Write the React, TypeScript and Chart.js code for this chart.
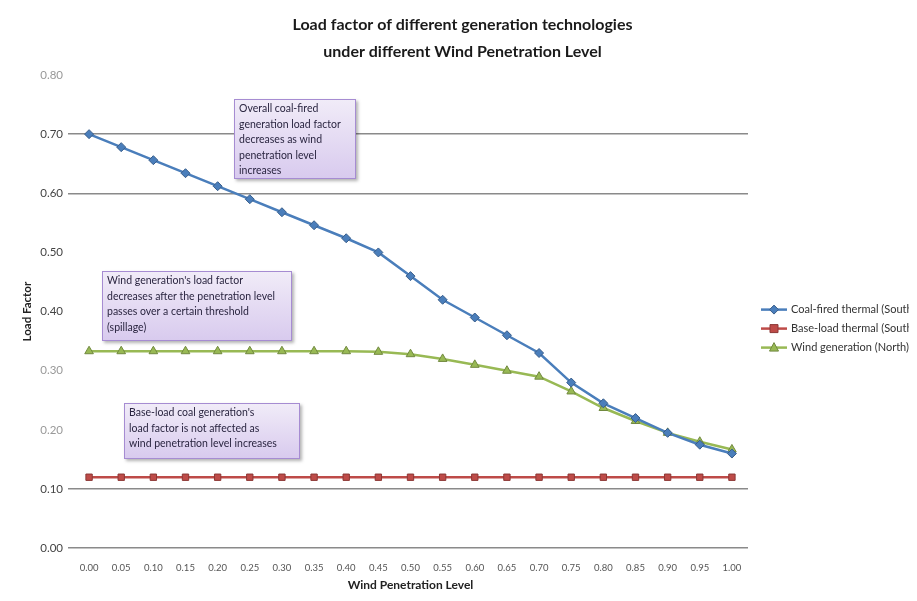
import React, { useEffect, useRef } from "react";
import { Chart, registerables } from "chart.js";

Chart.register(...registerables);

// ---------- data ----------
const categories = [
  "0.00", "0.05", "0.10", "0.15", "0.20", "0.25", "0.30", "0.35", "0.40", "0.45", "0.50",
  "0.55", "0.60", "0.65", "0.70", "0.75", "0.80", "0.85", "0.90", "0.95", "1.00",
];
const coalSouth = [
  0.70, 0.678, 0.656, 0.634, 0.612, 0.59, 0.568, 0.546, 0.524, 0.50, 0.46,
  0.42, 0.39, 0.36, 0.33, 0.28, 0.245, 0.22, 0.195, 0.175, 0.16,
];
const baseSouth = [
  0.12, 0.12, 0.12, 0.12, 0.12, 0.12, 0.12, 0.12, 0.12, 0.12, 0.12,
  0.12, 0.12, 0.12, 0.12, 0.12, 0.12, 0.12, 0.12, 0.12, 0.12,
];
const windNorth = [
  0.333, 0.333, 0.333, 0.333, 0.333, 0.333, 0.333, 0.333, 0.333, 0.332, 0.328,
  0.32, 0.31, 0.30, 0.29, 0.265, 0.237, 0.215, 0.195, 0.18, 0.167,
];
const seriesNames = ["Coal-fired thermal (South)", "Base-load thermal (South)", "Wind generation (North)"];
const titleLines = ["Load factor of different generation technologies", "under different Wind Penetration Level"];
const yTitle = "Load Factor";
const xTitle = "Wind Penetration Level";
const yMin = 0;
const yMax = 0.8;
const yStep = 0.1;
const shownGridValues = [0.7, 0.6, 0.1, 0.0];
const darkTickValues = [0.7, 0.6, 0.5, 0.4, 0.1, 0.0];
const noteTexts = [
  ["Overall coal-fired", "generation load factor", "decreases as wind", "penetration level", "increases"],
  ["Wind generation's load factor", "decreases after the penetration level", "passes over a certain threshold", "(spillage)"],
  ["Base-load coal generation's", "load factor is not affected as", "wind penetration level increases"],
];
// anchors of the notes in data units: [x index start, x index end, y top, y bottom]
const noteAnchors = [
  [4.5, 8.3, 0.76, 0.624],
  [0.4, 6.3, 0.469, 0.35],
  [1.1, 6.55, 0.245, 0.151],
];

const FONT = "Lato, 'Open Sans', sans-serif";
const colors = {
  blue: "#4a7ebb",
  blueDark: "#385d8a",
  red: "#be4b48",
  redDark: "#8c3836",
  green: "#98b954",
  greenDark: "#71893f",
};

const near = (list: number[], v: number) => list.some((g) => Math.abs(g - v) < 1e-6);

const titlePlugin = {
  id: "centerTitle",
  afterDraw(chart: any) {
    const { ctx, width } = chart;
    ctx.save();
    ctx.fillStyle = "#1a1a1a";
    ctx.font = `bold 16px ${FONT}`;
    ctx.textAlign = "center";
    ctx.textBaseline = "middle";
    titleLines.forEach((t, i) => ctx.fillText(t, width / 2 + 4, 17 + i * 27));
    ctx.restore();
  },
};

const notesPlugin = {
  id: "notes",
  afterDatasetsDraw(chart: any) {
    const { ctx, scales } = chart;
    const xs = scales.x;
    const ys = scales.y;
    noteTexts.forEach((lines, i) => {
      const [a, b, t, bt] = noteAnchors[i];
      const x1 = Math.round(xs.getPixelForValue(a));
      const x2 = Math.round(xs.getPixelForValue(b));
      const y1 = Math.round(ys.getPixelForValue(t));
      const y2 = Math.round(ys.getPixelForValue(bt));
      ctx.save();
      const grad = ctx.createLinearGradient(0, y1, 0, y2);
      grad.addColorStop(0, "#f1ecf8");
      grad.addColorStop(1, "#d8caee");
      ctx.shadowColor = "rgba(0,0,0,0.3)";
      ctx.shadowOffsetX = 2;
      ctx.shadowOffsetY = 2;
      ctx.shadowBlur = 3;
      ctx.fillStyle = grad;
      ctx.fillRect(x1, y1, x2 - x1, y2 - y1);
      ctx.shadowColor = "transparent";
      ctx.strokeStyle = "#a68cd2";
      ctx.lineWidth = 1;
      ctx.strokeRect(x1 + 0.5, y1 + 0.5, x2 - x1 - 1, y2 - y1 - 1);
      ctx.fillStyle = "#2a2540";
      ctx.font = `10.5px ${FONT}`;
      ctx.textBaseline = "middle";
      ctx.textAlign = "left";
      const lh = 15.5;
      lines.forEach((ln, k) => {
        ctx.fillText(ln, x1 + 5, y1 + 10 + k * lh);
      });
      ctx.restore();
    });
  },
};

const legendPlugin = {
  id: "sideLegend",
  afterDraw(chart: any) {
    const { ctx, chartArea } = chart;
    const x0 = chartArea.right + 13;
    const yStart = chartArea.top + (chartArea.bottom - chartArea.top) * 0.5 - 2;
    const gap = 19;
    const cols = [
      [colors.blue, colors.blueDark, "rectRot"],
      [colors.red, colors.redDark, "rect"],
      [colors.green, colors.greenDark, "triangle"],
    ];
    ctx.save();
    seriesNames.forEach((name, i) => {
      const y = yStart + i * gap;
      const [c, cd, shape] = cols[i];
      ctx.strokeStyle = c;
      ctx.lineWidth = 2.5;
      ctx.beginPath();
      ctx.moveTo(x0, y);
      ctx.lineTo(x0 + 26, y);
      ctx.stroke();
      ctx.fillStyle = c;
      ctx.strokeStyle = cd;
      ctx.lineWidth = 1;
      const mx = x0 + 13;
      ctx.beginPath();
      if (shape === "rectRot") {
        ctx.moveTo(mx, y - 4.5);
        ctx.lineTo(mx + 4.5, y);
        ctx.lineTo(mx, y + 4.5);
        ctx.lineTo(mx - 4.5, y);
        ctx.closePath();
      } else if (shape === "rect") {
        ctx.rect(mx - 4, y - 4, 8, 8);
      } else {
        ctx.moveTo(mx, y - 5);
        ctx.lineTo(mx + 4.5, y + 3.5);
        ctx.lineTo(mx - 4.5, y + 3.5);
        ctx.closePath();
      }
      ctx.fill();
      ctx.stroke();
      ctx.fillStyle = "#333";
      ctx.font = `11px ${FONT}`;
      ctx.textBaseline = "middle";
      ctx.textAlign = "left";
      ctx.fillText(name, x0 + 30, y);
    });
    ctx.restore();
  },
};

export default function App() {
  const ref = useRef<HTMLCanvasElement | null>(null);
  useEffect(() => {
    if (!ref.current) return;
    const chart = new Chart(ref.current, {
      type: "line",
      data: {
        labels: categories,
        datasets: [
          {
            label: seriesNames[0],
            data: coalSouth,
            borderColor: colors.blue,
            backgroundColor: colors.blue,
            pointBorderColor: colors.blueDark,
            borderWidth: 2.5,
            pointStyle: "rectRot",
            pointRadius: 4.5,
            pointBorderWidth: 1,
            tension: 0,
          },
          {
            label: seriesNames[1],
            data: baseSouth,
            borderColor: colors.red,
            backgroundColor: colors.red,
            pointBorderColor: colors.redDark,
            borderWidth: 2.5,
            pointStyle: "rect",
            pointRadius: 4.5,
            pointBorderWidth: 1,
            tension: 0,
          },
          {
            label: seriesNames[2],
            data: windNorth,
            borderColor: colors.green,
            backgroundColor: colors.green,
            pointBorderColor: colors.greenDark,
            borderWidth: 2.5,
            pointStyle: "triangle",
            pointRadius: 5,
            pointBorderWidth: 1,
            tension: 0,
          },
        ],
      },
      options: {
        animation: false,
        responsive: false,
        maintainAspectRatio: false,
        layout: { padding: { left: 8, right: 161, top: 67, bottom: 4 } },
        plugins: {
          legend: { display: false },
          tooltip: { enabled: false },
          title: { display: false },
        },
        scales: {
          x: {
            offset: true,
            grid: { display: false, drawTicks: false, offset: true },
            border: { display: false },
            ticks: {
              color: "#555",
              font: { family: FONT, size: 9.5 },
              maxRotation: 0,
              autoSkip: false,
              padding: 14,
            },
            title: {
              display: true,
              text: xTitle,
              color: "#222",
              font: { family: FONT, size: 12, weight: "bold" },
              padding: { top: -10, bottom: 0 },
            },
          },
          y: {
            min: yMin,
            max: yMax,
            ticks: {
              stepSize: yStep,
              color: (c: any) => (near(darkTickValues, c.tick.value) ? "#444" : "#999"),
              font: { family: FONT, size: 11.5 },
              padding: 5,
              callback: (v: any) => Number(v).toFixed(2),
            },
            grid: {
              color: (c: any) => (c.tick && near(shownGridValues, c.tick.value) ? "#8a8a8a" : "rgba(0,0,0,0)"),
              lineWidth: 1.5,
              tickLength: 5,
            },
            border: { display: false },
            title: {
              display: true,
              text: yTitle,
              color: "#222",
              font: { family: FONT, size: 11.5, weight: "bold" },
              padding: { top: 4, bottom: 2 },
            },
            afterFit: (s: any) => {
              s.width = 57;
            },
          },
        },
      },
      plugins: [titlePlugin, notesPlugin, legendPlugin],
    });
    return () => chart.destroy();
  }, []);
  return (
    <div style={{ width: 901, height: 588 }}>
      <canvas ref={ref} width={901} height={588} style={{ display: "block" }} />
    </div>
  );
}
